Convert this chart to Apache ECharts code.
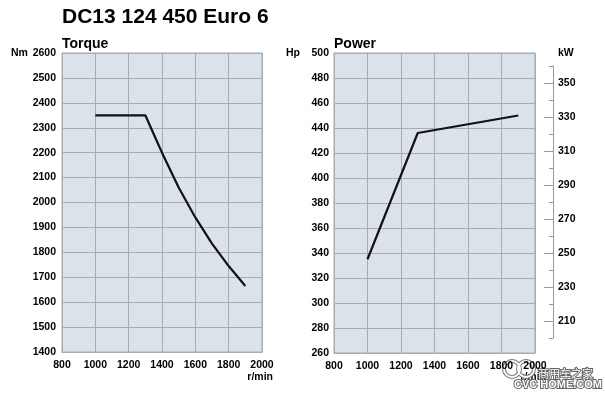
<!DOCTYPE html>
<html>
<head>
<meta charset="utf-8">
<script src="https://cdn.jsdelivr.net/npm/echarts@6/dist/echarts.min.js"></script>
<style>
  html, body { margin: 0; padding: 0; background: #fff; }
  #chart { width: 605px; height: 398px; }
</style>
</head>
<body>
<div id="chart"></div>
<script>
// engine speed (r/min) and torque curve
var rpmTorque = [1000, 1300, 1350, 1400, 1500, 1600, 1700, 1800, 1900];
var torqueNm = [2350, 2350, 2275, 2200, 2060, 1940, 1835, 1745, 1665];
// power curve
var rpmPower = [1000, 1300, 1600, 1900];
var powerHp = [335, 436, 443, 450];
// kW scale labels on the right
var kwLabels = [210, 230, 250, 270, 290, 310, 330, 350];
var kwMinor = [200, 220, 240, 260, 280, 300, 320, 340, 360];

var chart = echarts.init(document.getElementById('chart'));

var font = 'Liberation Sans, Arial, sans-serif';
var gridLine = '#a6acb3';
var plain = function (v) { return String(v); };
var labelStyle = { color: '#000', fontWeight: 'bold', fontSize: 10.5, fontFamily: font, formatter: plain };

function pairs(xs, ys) {
  return xs.map(function (x, i) { return [x, ys[i]]; });
}

function xAxisFor(gridIndex) {
  return {
    type: 'value',
    gridIndex: gridIndex,
    min: 800, max: 2000, interval: 200,
    axisLine: { show: true, lineStyle: { color: gridLine } },
    axisTick: { show: false },
    splitLine: { show: true, lineStyle: { color: gridLine, width: 1 } },
    axisLabel: Object.assign({ margin: 8 }, labelStyle)
  };
}

var option = {
  animation: false,
  backgroundColor: '#fff',
  grid: [
    { left: 62, top: 53, width: 200, height: 299, show: true, backgroundColor: '#dce2e9', borderColor: gridLine, borderWidth: 1 },
    { left: 334, top: 53, width: 201, height: 300, show: true, backgroundColor: '#dce2e9', borderColor: gridLine, borderWidth: 1 },
    { left: 553, top: 66, width: 30, height: 272, show: false }
  ],
  xAxis: [
    xAxisFor(0),
    xAxisFor(1),
    { type: 'value', gridIndex: 2, min: 0, max: 1, show: false }
  ],
  yAxis: [
    {
      type: 'value', gridIndex: 0,
      min: 1400, max: 2600, interval: 100,
      axisLine: { show: true, lineStyle: { color: gridLine } },
      axisTick: { show: false },
      splitLine: { show: true, lineStyle: { color: gridLine, width: 1 } },
      axisLabel: Object.assign({ margin: 6 }, labelStyle)
    },
    {
      type: 'value', gridIndex: 1,
      min: 260, max: 500, interval: 20,
      axisLine: { show: true, lineStyle: { color: gridLine } },
      axisTick: { show: false },
      splitLine: { show: true, lineStyle: { color: gridLine, width: 1 } },
      axisLabel: Object.assign({ margin: 5 }, labelStyle)
    },
    {
      // kW scale: short ticks
      type: 'value', gridIndex: 2, position: 'left',
      min: 200, max: 360,
      axisLine: { show: true, lineStyle: { color: '#999' } },
      axisTick: { show: true, inside: false, length: 4, lineStyle: { color: '#999' }, customValues: kwMinor },
      axisLabel: { show: false },
      splitLine: { show: false }
    },
    {
      // kW scale: long ticks + labels
      type: 'value', gridIndex: 2, position: 'left',
      min: 200, max: 360,
      axisLine: { show: false },
      axisTick: { show: true, inside: false, length: 9, lineStyle: { color: '#999' }, customValues: kwLabels },
      axisLabel: Object.assign({ inside: true, margin: 5, customValues: kwLabels }, labelStyle),
      splitLine: { show: false }
    }
  ],
  series: [
    {
      name: 'Torque', type: 'line',
      xAxisIndex: 0, yAxisIndex: 0,
      data: pairs(rpmTorque, torqueNm),
      showSymbol: false, smooth: false,
      lineStyle: { color: '#111', width: 2.2 }
    },
    {
      name: 'Power', type: 'line',
      xAxisIndex: 1, yAxisIndex: 1,
      data: pairs(rpmPower, powerHp),
      showSymbol: false, smooth: false,
      lineStyle: { color: '#111', width: 2.2 }
    }
  ],
  graphic: [
    { type: 'text', left: 62, top: 7, style: { text: 'DC13 124 450 Euro 6', fill: '#000', font: 'bold 21px ' + font } },
    { type: 'text', left: 62, top: 37, style: { text: 'Torque', fill: '#000', font: 'bold 14px ' + font } },
    { type: 'text', left: 334, top: 37, style: { text: 'Power', fill: '#000', font: 'bold 14px ' + font } },
    { type: 'text', left: 11, top: 48, style: { text: 'Nm', fill: '#000', font: 'bold 10.5px ' + font } },
    { type: 'text', left: 286, top: 48, style: { text: 'Hp', fill: '#000', font: 'bold 10.5px ' + font } },
    { type: 'text', left: 558, top: 48, style: { text: 'kW', fill: '#000', font: 'bold 10.5px ' + font } },
    { type: 'text', right: 332, top: 372, style: { text: 'r/min', fill: '#000', font: 'bold 10.5px ' + font } },
    { type: 'text', right: 59, top: 372, style: { text: 'r/min', fill: '#000', font: 'bold 10.5px ' + font } },
    // watermark
    { type: 'circle', shape: { cx: 512, cy: 369, r: 8 }, style: { fill: 'none', stroke: '#777', lineWidth: 4 } },
    { type: 'circle', shape: { cx: 526, cy: 369, r: 8 }, style: { fill: 'none', stroke: '#777', lineWidth: 4 } },
    { type: 'circle', shape: { cx: 512, cy: 369, r: 8 }, style: { fill: 'none', stroke: '#fff', lineWidth: 2 } },
    { type: 'circle', shape: { cx: 526, cy: 369, r: 8 }, style: { fill: 'none', stroke: '#fff', lineWidth: 2 } },
    { type: 'text', left: 537, top: 367, style: { text: '商用车之家', fill: '#fff', stroke: '#666', lineWidth: 2, font: '11px "Noto Sans CJK SC", sans-serif' } },
    { type: 'text', left: 513, top: 378, style: { text: 'CVC HOME.COM', fill: '#fff', stroke: '#666', lineWidth: 2, font: 'bold 11px ' + font } }
  ]
};

chart.setOption(option);
window.addEventListener('resize', function () { chart.resize(); });
</script>
</body>
</html>
